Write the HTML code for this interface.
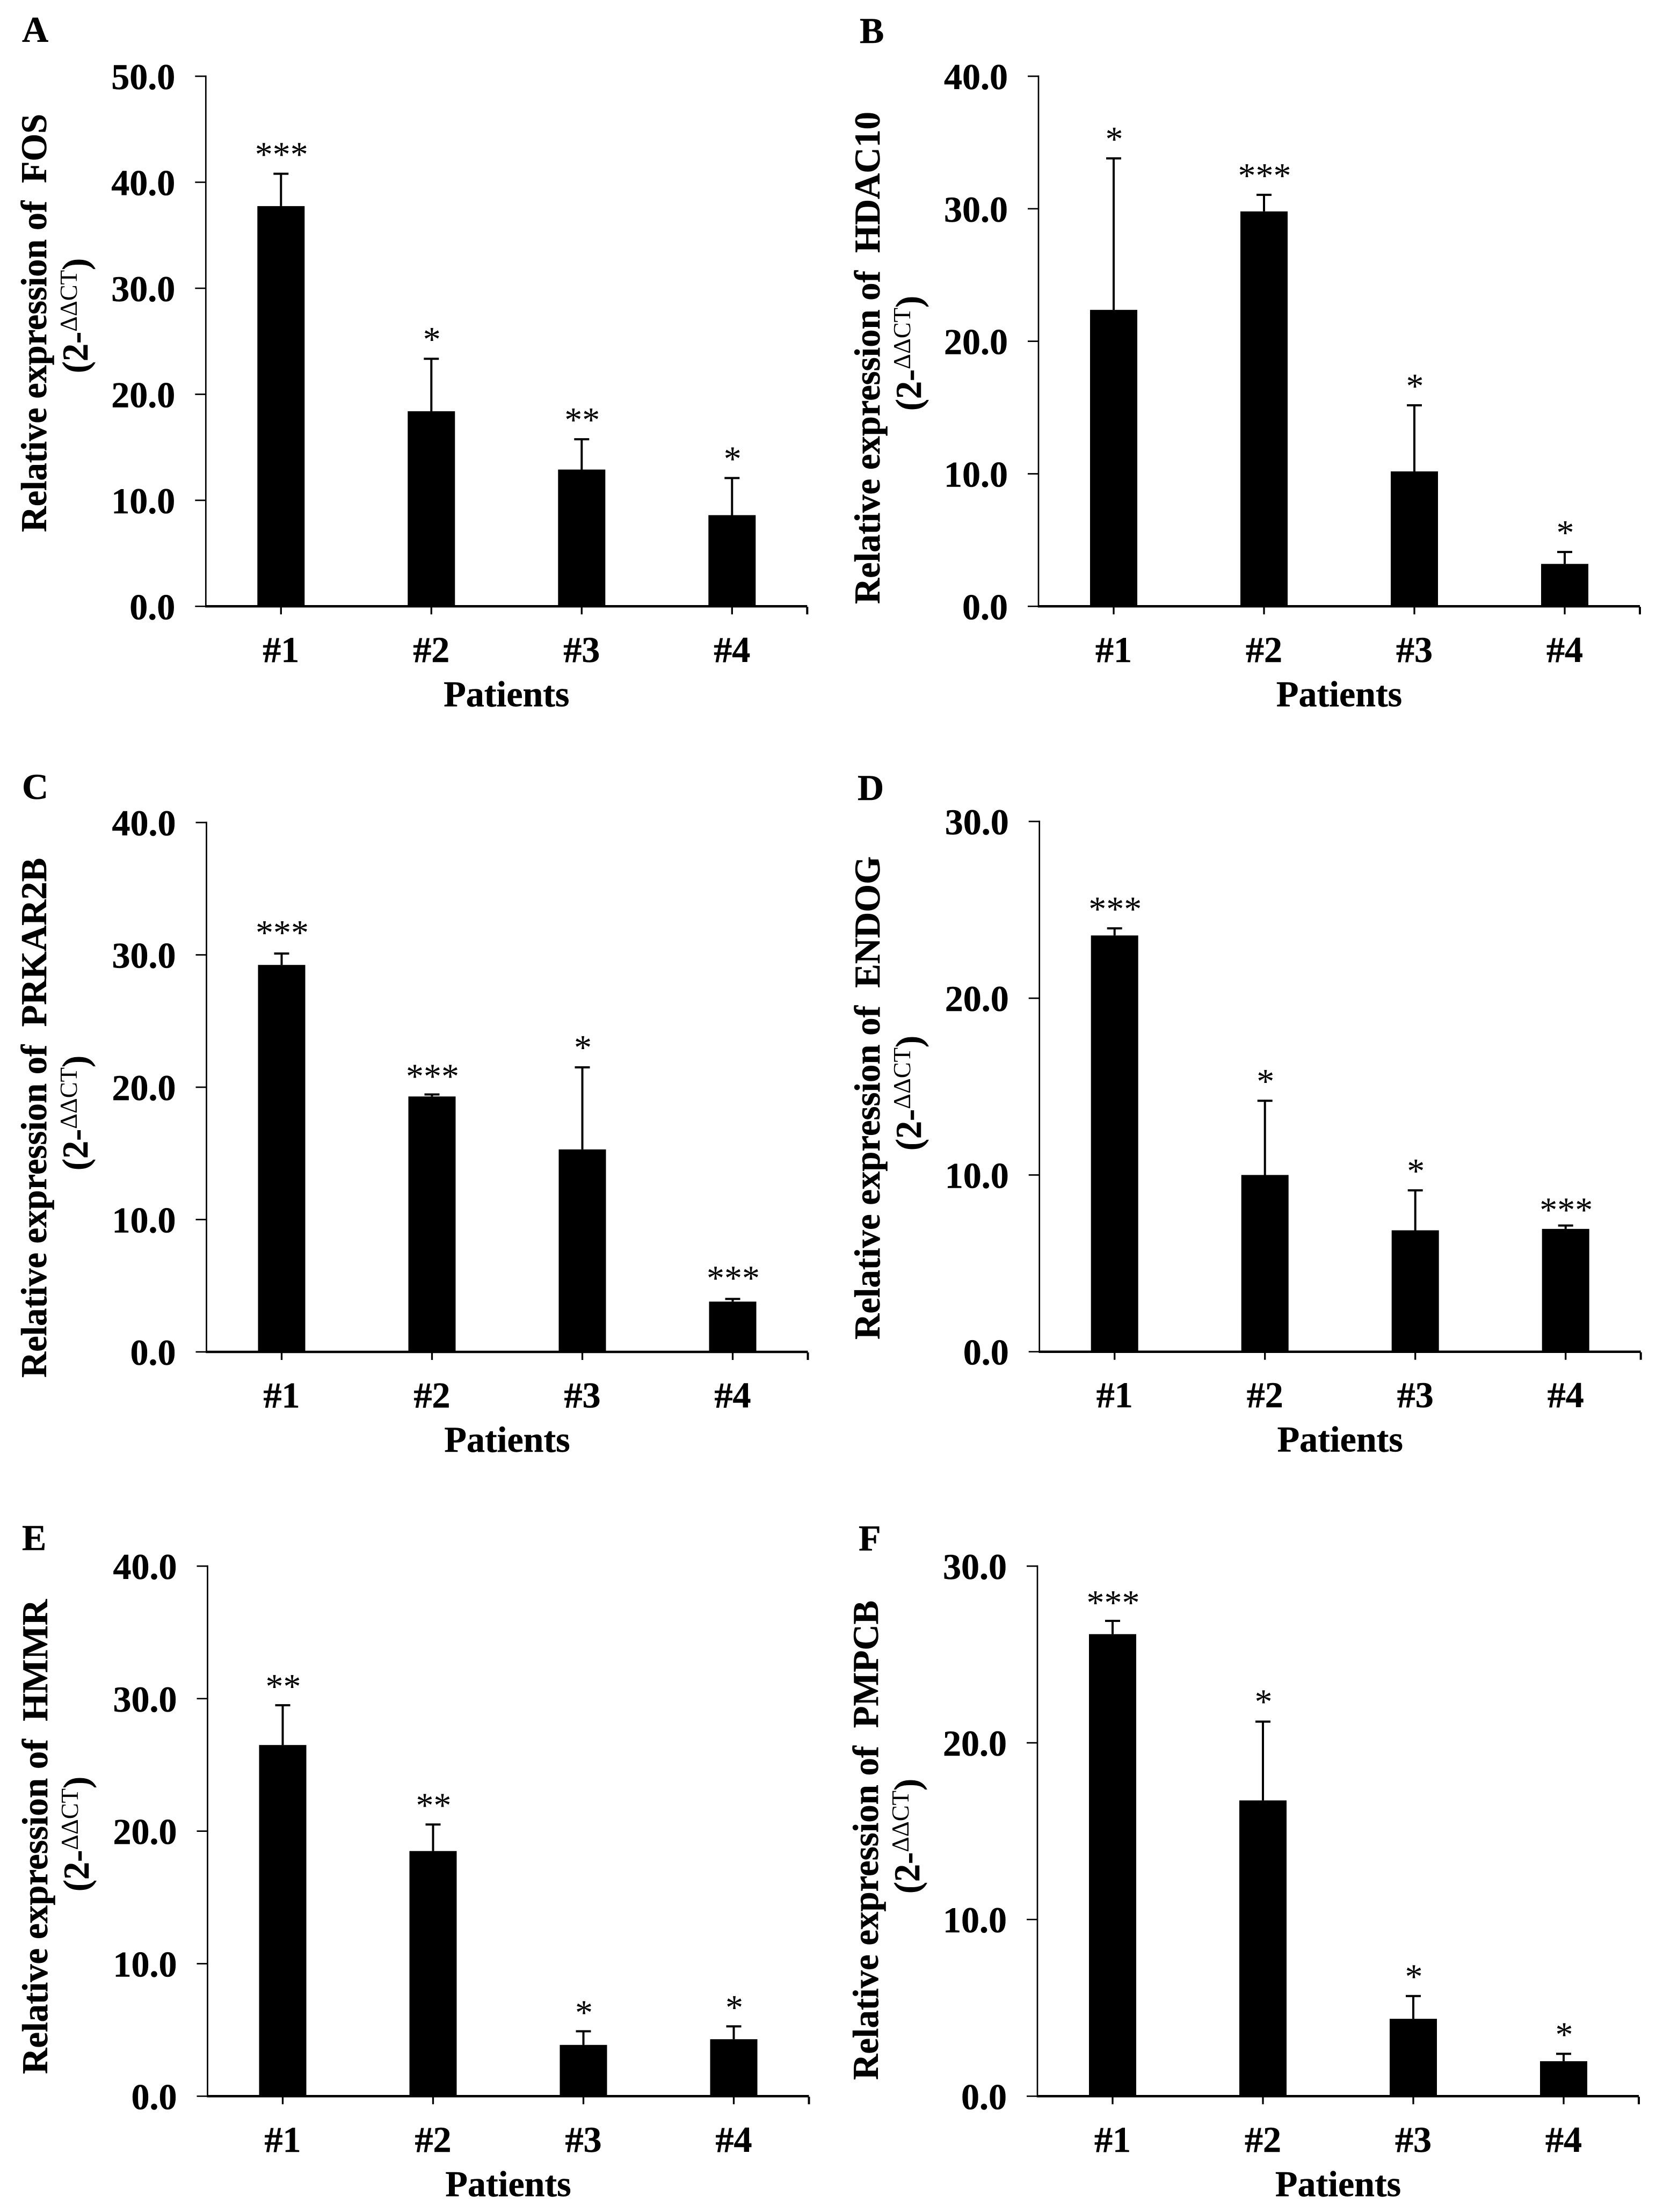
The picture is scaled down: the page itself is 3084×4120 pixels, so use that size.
<!DOCTYPE html>
<html lang="en">
<head>
<meta charset="utf-8">
<title>Relative expression of six genes across patients</title>
<style>
  html, body { margin: 0; padding: 0; background: #fff; }
  body { width: 3084px; height: 4120px; overflow: hidden; }
  svg { display: block; position: absolute; left: 0; top: 0; }
  text { font-family: "Liberation Serif", serif; fill: #000; }
  .bold { font-weight: 700; font-size: 68px; stroke: #000; stroke-width: 0.5px; }
</style>
</head>
<body>
<svg id="fig" xmlns="http://www.w3.org/2000/svg" width="3084" height="4120" viewBox="0 0 3084 4120"></svg>
<script>
// ---- data ----
const categories = ['#1', '#2', '#3', '#4'];

const fosTicks = [0, 10, 20, 30, 40, 50];
const fosMeans = [37.75, 18.4, 12.9, 8.6];
const fosErrors = [3.05, 4.95, 2.86, 3.5];
const fosStars = ['***', '*', '**', '*'];

const hdac10Ticks = [0, 10, 20, 30, 40];
const hdac10Means = [22.37, 29.8, 10.18, 3.2];
const hdac10Errors = [11.43, 1.25, 4.99, 0.9];
const hdac10Stars = ['*', '***', '*', '*'];

const prkar2bTicks = [0, 10, 20, 30, 40];
const prkar2bMeans = [29.24, 19.3, 15.3, 3.8];
const prkar2bErrors = [0.86, 0.15, 6.2, 0.2];
const prkar2bStars = ['***', '***', '*', '***'];

const endogTicks = [0, 10, 20, 30];
const endogMeans = [23.55, 10.0, 6.87, 6.95];
const endogErrors = [0.4, 4.2, 2.26, 0.19];
const endogStars = ['***', '*', '*', '***'];

const hmmrTicks = [0, 10, 20, 30, 40];
const hmmrMeans = [26.5, 18.5, 3.87, 4.3];
const hmmrErrors = [3.0, 2.0, 1.03, 0.97];
const hmmrStars = ['**', '**', '*', '*'];

const pmpcbTicks = [0, 10, 20, 30];
const pmpcbMeans = [26.15, 16.74, 4.38, 1.98];
const pmpcbErrors = [0.75, 4.46, 1.29, 0.42];
const pmpcbStars = ['***', '*', '*', '*'];

// ---- panel layout ----
const panels = [
  { key: 'fos', letter: 'A', gene: 'FOS', ticks: fosTicks, means: fosMeans, errors: fosErrors, stars: fosStars,
    x0: 383.3, x1: 1503.3, yTop: 142, yZero: 1129.3, lx: 41, ly: 78,
    titleX: 86, titleY: 991, titleLen: 779, subX: 163, subY: 695, starGaps: [45, 45, 45, 45] },
  { key: 'hdac10', letter: 'B', gene: 'HDAC10', ticks: hdac10Ticks, means: hdac10Means, errors: hdac10Errors, stars: hdac10Stars,
    x0: 1934, x1: 3054, yTop: 142, yZero: 1129.3, lx: 1601, ly: 80,
    titleX: 1638, titleY: 1125, titleLen: 917, subX: 1715, subY: 765, starGaps: [45, 45, 45, 45] },
  { key: 'prkar2b', letter: 'C', gene: 'PRKAR2B', ticks: prkar2bTicks, means: prkar2bMeans, errors: prkar2bErrors, stars: prkar2bStars,
    x0: 384.5, x1: 1504.5, yTop: 1532, yZero: 2518, lx: 41, ly: 1488,
    titleX: 86, titleY: 2566, titleLen: 968, subX: 163, subY: 2180, starGaps: [48, 43, 46, 48] },
  { key: 'endog', letter: 'D', gene: 'ENDOG', ticks: endogTicks, means: endogMeans, errors: endogErrors, stars: endogStars,
    x0: 1935.7, x1: 3055.7, yTop: 1530, yZero: 2517.7, lx: 1597, ly: 1490,
    titleX: 1638, titleY: 2495, titleLen: 900, subX: 1715, subY: 2143, starGaps: [45, 45, 45, 38] },
  { key: 'hmmr', letter: 'E', gene: 'HMMR', ticks: hmmrTicks, means: hmmrMeans, errors: hmmrErrors, stars: hmmrStars,
    x0: 386.5, x1: 1506.5, yTop: 2917, yZero: 3904.3, lx: 41, ly: 2887,
    titleX: 88, titleY: 3863, titleLen: 884, subX: 165, subY: 3523, starGaps: [44, 45, 44, 44] },
  { key: 'pmpcb', letter: 'F', gene: 'PMPCB', ticks: pmpcbTicks, means: pmpcbMeans, errors: pmpcbErrors, stars: pmpcbStars,
    x0: 1932, x1: 3052, yTop: 2917, yZero: 3904.3, lx: 1599, ly: 2888,
    titleX: 1635, titleY: 3874, titleLen: 893, subX: 1712, subY: 3527, starGaps: [43, 46, 45, 45] }
];

const NS = 'http://www.w3.org/2000/svg';
const root = document.getElementById('fig');

function make(tag, parent, attrs) {
  const el = document.createElementNS(NS, tag);
  for (const k in attrs) el.setAttribute(k, attrs[k]);
  parent.appendChild(el);
  return el;
}

panels.forEach(function (p) {
  const axisMax = p.ticks[p.ticks.length - 1];
  const yScale = function (v) { return p.yZero - (v / axisMax) * (p.yZero - p.yTop); };
  const band = (p.x1 - p.x0) / categories.length;
  const xScale = function (i) { return p.x0 + (i + 0.5) * band; };

  const g = make('g', root, {});
  
  

  const letter = make('text', g, { x: p.lx, y: p.ly, class: 'bold' });
  letter.textContent = p.letter;
  
  

  // bars and error bars
  categories.forEach(function (c, i) {
    const cx = xScale(i);
    const top = yScale(p.means[i]);
    const errTop = yScale(p.means[i] + p.errors[i]);

    const stem = make('line', g, { x1: cx, x2: cx, y1: top, y2: errTop, stroke: '#000', 'stroke-width': 4 });
    
    

    const cap = make('line', g, { x1: cx - 14, x2: cx + 14, y1: errTop, y2: errTop, stroke: '#000', 'stroke-width': 4 });
    
    

    const bar = make('rect', g, { x: cx - 44, y: top, width: 88, height: p.yZero - top, fill: '#000' });
    
    

    const star = make('text', g, { x: cx + 1, y: errTop - p.starGaps[i] + 31, 'text-anchor': 'middle', 'font-size': 66 });
    star.textContent = p.stars[i];
    
    

    const xt = make('line', g, { x1: cx, x2: cx, y1: p.yZero, y2: p.yZero + 15, stroke: '#000', 'stroke-width': 3.3 });
    
    

    const xl = make('text', g, { x: cx, y: p.yZero + 103.5, 'text-anchor': 'middle', class: 'bold' });
    xl.textContent = c;
    
    
  });

  // axes
  const yAxis = make('line', g, { x1: p.x0, x2: p.x0, y1: p.yTop - 1.5, y2: p.yZero + 2, stroke: '#000', 'stroke-width': 2.7 });
  
  

  const xAxis = make('line', g, { x1: p.x0 - 1, x2: p.x1, y1: p.yZero, y2: p.yZero, stroke: '#000', 'stroke-width': 4.5 });
  
  

  const endTick = make('line', g, { x1: p.x1, x2: p.x1, y1: p.yZero + 1, y2: p.yZero + 15, stroke: '#000', 'stroke-width': 4 });
  
  

  p.ticks.forEach(function (t) {
    const y = yScale(t);
    const tick = make('line', g, { x1: p.x0 - 20, x2: p.x0, y1: y, y2: y, stroke: '#000', 'stroke-width': 2.7 });
    
    

    const lab = make('text', g, { x: p.x0 - 57, y: y + 24, 'text-anchor': 'end', class: 'bold' });
    lab.textContent = t.toFixed(1);
    
    
  });

  // axis titles
  const xTitle = make('text', g, { x: (p.x0 + p.x1) / 2, y: p.yZero + 186, 'text-anchor': 'middle', class: 'bold' });
  xTitle.textContent = 'Patients';
  
  

  const yTitle = make('text', g, {
    transform: 'translate(' + p.titleX + ' ' + p.titleY + ') rotate(-90)',
    class: 'bold', textLength: p.titleLen, lengthAdjust: 'spacingAndGlyphs'
  });
  yTitle.setAttribute('xml:space', 'preserve');
  yTitle.style.whiteSpace = 'pre';
  yTitle.textContent = 'Relative expression of  ' + p.gene;
  
  

  const sub = make('text', g, {
    transform: 'translate(' + p.subX + ' ' + p.subY + ') rotate(-90)',
    class: 'bold', textLength: 214, lengthAdjust: 'spacingAndGlyphs'
  });
  
  
  const s1 = make('tspan', sub, {});
  s1.textContent = '(2-';
  const s2 = make('tspan', sub, { dy: -20, 'font-size': 46, 'font-weight': 400, style: 'stroke:none' });
  s2.textContent = '\u0394\u0394CT';
  const s3 = make('tspan', sub, { dy: 20 });
  s3.textContent = ')';
});
</script>
</body>
</html>
